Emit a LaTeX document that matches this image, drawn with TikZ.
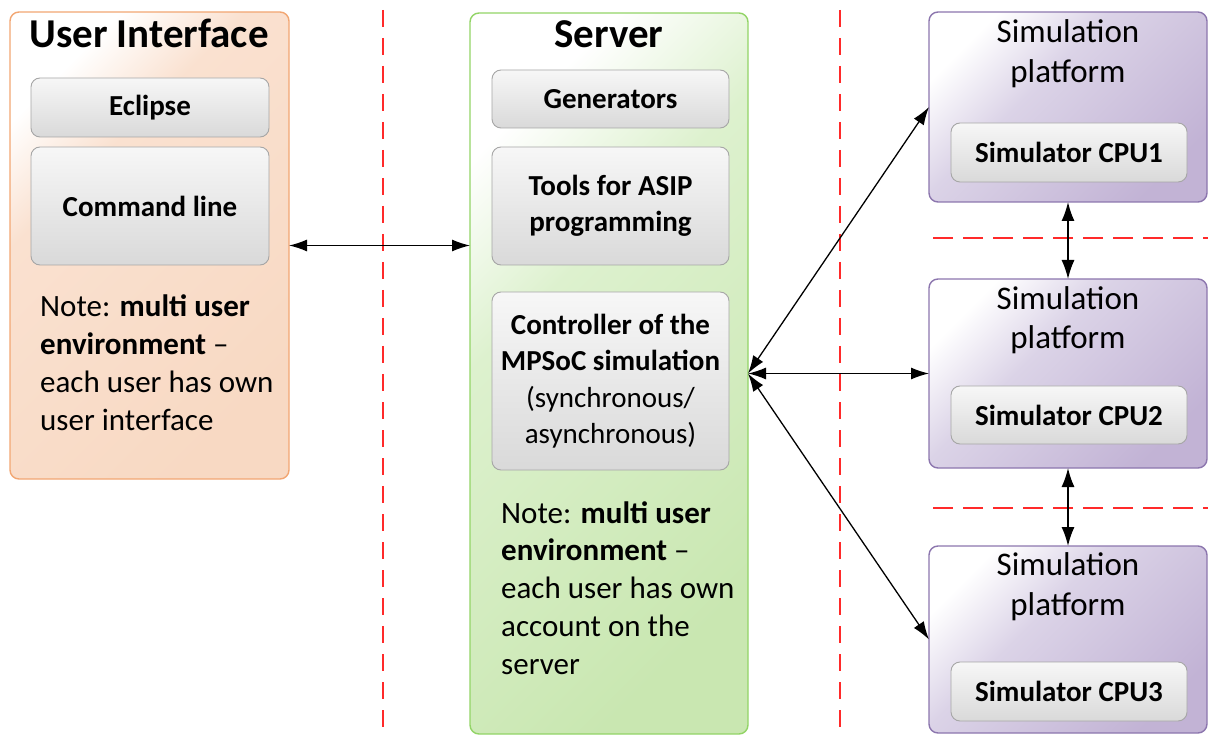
\documentclass[tikz,border=0pt]{standalone}
\usepackage{fontspec}
\setmainfont{Carlito}
\usetikzlibrary{arrows.meta}

% palette
\definecolor{uiBorder}{HTML}{F2A672}
\definecolor{uiMid}{HTML}{FAE1D0}
\definecolor{uiDark}{HTML}{F8D9C3}
\definecolor{srvBorder}{HTML}{92D466}
\definecolor{srvMid}{HTML}{DDF1CE}
\definecolor{srvDark}{HTML}{C9E7B1}
\definecolor{simBorder}{HTML}{8C76AE}
\definecolor{simMid}{HTML}{DBD3E7}
\definecolor{simDark}{HTML}{C2B3D5}
\definecolor{boxTop}{HTML}{F7F7F7}
\definecolor{boxBot}{HTML}{D9D9D9}
\definecolor{boxLine}{HTML}{A6A6A6}
\definecolor{sepRed}{HTML}{FF2A2A}

% diagonal fills of the three tiers
\pgfdeclarehorizontalshading{uiShade}{100bp}{color(0bp)=(white); color(25bp)=(white); color(37bp)=(uiMid); color(75bp)=(uiDark); color(100bp)=(uiDark)}
\pgfdeclarehorizontalshading{srvShade}{100bp}{color(0bp)=(white); color(25bp)=(white); color(40bp)=(srvMid); color(75bp)=(srvDark); color(100bp)=(srvDark)}
\pgfdeclarehorizontalshading{simShade}{100bp}{color(0bp)=(white); color(25bp)=(white); color(42bp)=(simMid); color(75bp)=(simDark); color(100bp)=(simDark)}

\newcommand\fsz[2]{\fontsize{#1}{#2}\selectfont}

\tikzset{
  panel/.style={shade, rounded corners=9pt, line width=1.4pt, shading angle=-45,
    inner sep=0pt, outer sep=0pt, anchor=north west},
  uipanel/.style={panel, draw=uiBorder, shading=uiShade},
  srvpanel/.style={panel, draw=srvBorder, shading=srvShade},
  simpanel/.style={panel, draw=simBorder, shading=simShade},
  innerbox/.style={draw=boxLine, line width=0.9pt, rounded corners=9pt,
    top color=boxTop, bottom color=boxBot, inner sep=0pt, outer sep=0pt,
    anchor=north west, align=flush center, font=\fsz{29}{36.5}\bfseries},
  title/.style={anchor=base, inner sep=0pt, font=\fsz{41}{44}\bfseries},
  simtitle/.style={anchor=base, inner sep=0pt, text width=270pt, align=flush center, font=\fsz{33}{39.5}},
  note/.style={anchor=base west, inner sep=0pt, text width=260pt, align=flush left, font=\fsz{31}{37.8}},
  sep/.style={draw=sepRed, line width=2pt, dash pattern=on 17pt off 11pt},
  hsep/.style={draw=sepRed, line width=2pt, dash pattern=on 20pt off 10pt},
  link/.style={{Latex[length=18pt,width=12pt]}-{Latex[length=18pt,width=12pt]}, line width=1.3pt},
  vlink/.style={{Latex[length=19pt,width=13pt]}-{Latex[length=19pt,width=13pt]}, line width=1.5pt},
}

\begin{document}
\begin{tikzpicture}[x=1pt, y=-1pt]
\useasboundingbox (0,0) rectangle (1208,735);

% tier separators
\draw[sep] (383,10) -- (383,735);
\draw[sep] (840,10) -- (840,735);
\draw[hsep] (933,238) -- (1208,238);
\draw[hsep] (933,508) -- (1208,508);

% user interface tier
\node[uipanel, minimum width=279pt, minimum height=467pt] (ui) at (10,12) {};
\node[title] (uiTitle) at (149,48) {User Interface};
\node[innerbox, minimum width=238pt, minimum height=59pt] (eclipse) at (31,78) {Eclipse};
\node[innerbox, minimum width=238pt, minimum height=118pt] (cmd) at (31,147) {Command line};
\node[note] (uiNote) at (40,317) {Note: \textbf{multi user}\\\textbf{environment} –\\each user has own\\user interface};

% server tier
\node[srvpanel, minimum width=278pt, minimum height=721pt] (srv) at (470,13) {};
\node[title] (srvTitle) at (609,48) {Server};
\node[innerbox, minimum width=237pt, minimum height=58pt] (gen) at (492,70) {Generators};
\node[innerbox, minimum width=237pt, minimum height=118pt] (tools) at (492,147) {Tools for ASIP\\programming};
\node[innerbox, minimum width=237pt, minimum height=178pt] (ctrl) at (492,292) {Controller of the\\MPSoC simulation\\\mdseries(synchronous/\\\mdseries asynchronous)};
\node[note] (srvNote) at (501,523) {Note: \textbf{multi user}\\\textbf{environment} –\\each user has own\\account on the\\server};

% simulation platforms
\node[simpanel, minimum width=278pt, minimum height=190pt] (sp1) at (929,12) {};
\node[simtitle] (sp1Title) at (1068,43) {Simulation\\platform};
\node[innerbox, minimum width=236pt, minimum height=59pt] (cpu1) at (951,123) {Simulator CPU1};

\node[simpanel, minimum width=278pt, minimum height=189pt] (sp2) at (929,279) {};
\node[simtitle] (sp2Title) at (1068,309.5) {Simulation\\platform};
\node[innerbox, minimum width=236pt, minimum height=58pt] (cpu2) at (951,386) {Simulator CPU2};

\node[simpanel, minimum width=278pt, minimum height=187pt] (sp3) at (929,546) {};
\node[simtitle] (sp3Title) at (1068,575.5) {Simulation\\platform};
\node[innerbox, minimum width=236pt, minimum height=59pt] (cpu3) at (951,662) {Simulator CPU3};

% connections
\draw[link] (ui.east) -- (srv.west |- ui.east);
\draw[link] (srv.east) -- (sp1.west);
\draw[link] (srv.east) -- (sp2.west);
\draw[link] (srv.east) -- (sp3.west);
\draw[vlink] (sp1.south) -- (sp2.north);
\draw[vlink] (sp2.south) -- (sp3.north);
\end{tikzpicture}
\end{document}
